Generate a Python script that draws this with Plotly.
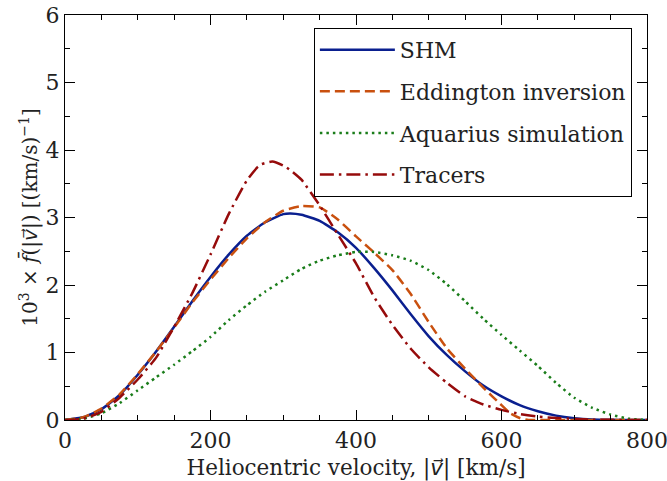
import plotly.graph_objects as go

# Velocity grid (km/s) and curve values (10^3 x f)
shm_v = [0, 25, 50, 75, 100, 125, 150, 175, 200, 225, 250, 275, 300, 310, 325, 350, 375, 400, 425, 450,
         475, 500, 525, 550, 575, 600, 625, 650, 675, 700, 725, 750, 775, 800]
shm_f = [0, 0.04, 0.16, 0.37, 0.67, 1.01, 1.38, 1.76, 2.12, 2.45, 2.73, 2.93, 3.05, 3.06, 3.04, 2.95, 2.78,
         2.55, 2.25, 1.92, 1.57, 1.24, 0.96, 0.72, 0.51, 0.35, 0.22, 0.13, 0.065, 0.027, 0.008, 0.002, 0, 0]

edd_v = [0, 25, 50, 75, 100, 125, 150, 175, 200, 225, 250, 275, 300, 325, 350, 375, 400, 425, 450, 475,
         500, 525, 550, 575, 600, 612, 625, 637, 650, 700, 800]
edd_f = [0, 0.04, 0.17, 0.38, 0.68, 1.01, 1.37, 1.74, 2.08, 2.40, 2.69, 2.93, 3.10, 3.17, 3.15, 2.97,
         2.72, 2.48, 2.22, 1.87, 1.45, 1.06, 0.76, 0.48, 0.22, 0.10, 0.03, 0.0, 0, 0, 0]

aq_v = [0, 25, 50, 75, 100, 125, 150, 175, 200, 225, 250, 275, 300, 325, 350, 375, 400, 425, 450, 475,
        500, 525, 550, 575, 600, 625, 650, 675, 700, 725, 750, 775, 800]
aq_f = [0, 0.02, 0.10, 0.25, 0.44, 0.63, 0.82, 1.02, 1.23, 1.48, 1.70, 1.90, 2.07, 2.24, 2.36, 2.44,
        2.49, 2.49, 2.44, 2.36, 2.22, 2.01, 1.76, 1.50, 1.26, 1.03, 0.80, 0.55, 0.33, 0.18, 0.08, 0.02, 0]

tr_v = [0, 25, 50, 75, 100, 125, 150, 175, 200, 225, 250, 265, 270, 285, 300, 310, 325, 350, 375, 400,
        425, 450, 475, 500, 525, 550, 575, 600, 625, 650, 675, 700, 725, 800]
tr_f = [0, 0.02, 0.12, 0.33, 0.60, 0.92, 1.38, 1.88, 2.45, 3.05, 3.55, 3.75, 3.79, 3.83, 3.77, 3.70,
        3.56, 3.18, 2.75, 2.32, 1.82, 1.41, 1.06, 0.78, 0.55, 0.35, 0.23, 0.15, 0.09, 0.05, 0.03, 0.015, 0.005, 0]

names = ["SHM", "Eddington inversion", "Aquarius simulation", "Tracers"]
x_ticks = [0, 200, 400, 600, 800]
y_ticks = [0, 1, 2, 3, 4, 5, 6]

FONT = "DejaVu Serif"
SYM = "<span style='font-family:DejaVu Sans'>"

fig = go.Figure()
series = [
    (shm_v, shm_f, "#0a1f8f", "solid"),
    (edd_v, edd_f, "#c9500f", "10px,5px"),
    (aq_v, aq_f, "#1a7d1a", "2.5px,4px"),
    (tr_v, tr_f, "#960b0b", "14px,5px,2.5px,5px"),
]
for i, ((xv, yv, col, dash), nm) in enumerate(zip(series, names)):
    fig.add_trace(go.Scatter(
        x=xv, y=yv, mode="lines", name=nm, legendgroup=f"g{i}",
        line=dict(color=col, width=2.5, dash=dash, shape="spline", smoothing=0.5),
    ))

axis_common = dict(
    showline=True, linecolor="black", linewidth=1.2, mirror="allticks",
    ticks="inside", ticklen=10, tickwidth=1.2, tickcolor="black",
    showgrid=False, zeroline=False, automargin=False, ticklabeloverflow="allow",
    tickfont=dict(family=FONT, size=22, color="#222"),
)
fig.update_xaxes(
    range=[0, 800], tickvals=x_ticks,
    minor=dict(ticks="inside", ticklen=5, tickwidth=1, dtick=50, tick0=0, tickcolor="black", showgrid=False),
    title=dict(text="Heliocentric velocity, |" + SYM + "<i>v\u20d7</i></span>| [km/s]",
               font=dict(family=FONT, size=21.5, color="#222")),
    **axis_common,
)
fig.update_yaxes(
    range=[0, 6], tickvals=y_ticks,
    minor=dict(ticks="inside", ticklen=5, tickwidth=1, dtick=0.5, tick0=0, tickcolor="black", showgrid=False),
    title=dict(text="10<sup>3</sup> × <i>f\u0304</i>(|" + SYM + "<i>v\u20d7</i></span>|) [(km/s)<sup>−1</sup>]",
               font=dict(family=FONT, size=20, color="#222"), standoff=2),
    **axis_common,
)
fig.update_layout(
    width=667, height=481,
    margin=dict(l=65, r=20, t=15, b=61),
    plot_bgcolor="white", paper_bgcolor="white",
    legend=dict(
        x=0.974, y=0.968, xanchor="right", yanchor="top",
        bordercolor="black", borderwidth=1, bgcolor="white",
        font=dict(family=FONT, size=22, color="#222"),
        tracegroupgap=10, itemwidth=75,
    ),
)
fig.write_html("out.html")
